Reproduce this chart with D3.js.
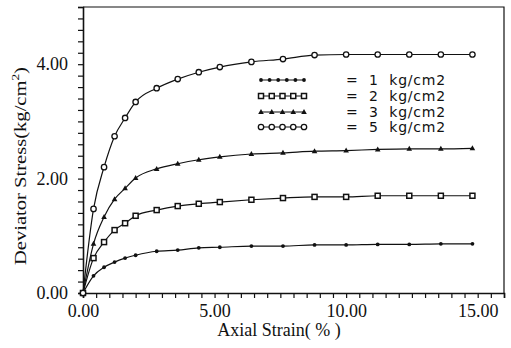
<!DOCTYPE html>
<html>
<head>
<meta charset="utf-8">
<script src="https://cdn.jsdelivr.net/npm/d3@7"></script>
<style>
  body { margin: 0; background: #fff; }
  svg { display: block; }
</style>
</head>
<body>
<div id="chart"></div>
<script>
// strain (%) read at each plotted point, shared by all four curves
var strain = [0, 0.4, 0.8, 1.2, 1.6, 2.0, 2.8, 3.6, 4.4, 5.2, 6.4, 7.6, 8.8, 10.0, 11.2, 12.4, 13.6, 14.8];
// deviator stress (kg/cm2) for each confining pressure
var stress1 = [0, 0.30, 0.45, 0.54, 0.61, 0.66, 0.73, 0.75, 0.79, 0.80, 0.82, 0.82, 0.84, 0.84, 0.85, 0.85, 0.86, 0.86];
var stress2 = [0, 0.61, 0.89, 1.10, 1.22, 1.35, 1.45, 1.52, 1.56, 1.59, 1.63, 1.66, 1.68, 1.68, 1.70, 1.70, 1.70, 1.70];
var stress3 = [0, 0.86, 1.33, 1.64, 1.83, 2.01, 2.17, 2.26, 2.33, 2.38, 2.43, 2.45, 2.48, 2.49, 2.51, 2.52, 2.52, 2.53];
var stress5 = [0, 1.47, 2.20, 2.74, 3.06, 3.34, 3.58, 3.74, 3.86, 3.95, 4.04, 4.09, 4.16, 4.17, 4.17, 4.17, 4.17, 4.17];
var pressures = ["1", "2", "3", "5"];
var markers = ["dot", "square", "triangle", "circle"];
var xLabelTicks = [0, 5, 10, 15];
var yLabelTicks = [0, 2, 4];

var series = [stress1, stress2, stress3, stress5];

var W = 511, H = 348;
var margin = { top: 7, right: 7, bottom: 55, left: 83 };
var width = W - margin.left - margin.right,
    height = H - margin.top - margin.bottom;

var svg = d3.select("#chart").append("svg")
    .attr("width", W)
    .attr("height", H)
    .append("g")
    .attr("transform", `translate(${margin.left},${margin.top})`);

var x = d3.scaleLinear().domain([0, 16]).range([0, width]);
var y = d3.scaleLinear().domain([0, 5]).range([height, 0]);

var ink = "#111";
var serif = "'Liberation Serif', 'Times New Roman', serif";

// frame (top + right)
svg.append("path")
    .attr("d", `M0,0H${width}V${height}`)
    .attr("fill", "none")
    .attr("stroke", ink)
    .attr("stroke-width", 1.2);

// x axis, minor tick every 0.5
var xAxis = svg.append("g")
    .attr("transform", `translate(0,${height})`)
    .call(d3.axisBottom(x)
        .tickValues(d3.range(0, 16.01, 0.5))
        .tickSize(5)
        .tickPadding(6)
        .tickFormat(function (d) { return xLabelTicks.indexOf(d) >= 0 ? d3.format(".2f")(d) : ""; }));

// y axis, minor tick every 0.2
var yAxis = svg.append("g")
    .call(d3.axisLeft(y)
        .tickValues(d3.range(0, 5.01, 0.2).map(function (d) { return Math.round(d * 10) / 10; }))
        .tickSize(5)
        .tickPadding(10)
        .tickFormat(function (d) { return yLabelTicks.indexOf(d) >= 0 ? d3.format(".2f")(d) : ""; }));

[xAxis, yAxis].forEach(function (a) {
    a.select(".domain").attr("stroke", ink).attr("stroke-width", 1.6);
    a.selectAll(".tick line").attr("stroke", ink).attr("stroke-width", 1.2);
    a.selectAll("text")
        .attr("fill", ink)
        .style("font-family", serif)
        .style("font-size", "18px");
});

// axis titles
svg.append("text")
    .attr("x", 196)
    .attr("y", 329)
    .attr("text-anchor", "middle")
    .style("font-family", serif)
    .style("font-size", "18px")
    .attr("fill", ink)
    .text("Axial  Strain( % )");

var yTitle = svg.append("text")
    .attr("transform", `translate(${26 - margin.left},${166 - margin.top}) rotate(-90)`)
    .attr("text-anchor", "middle")
    .attr("textLength", 198)
    .attr("lengthAdjust", "spacingAndGlyphs")
    .style("font-family", serif)
    .style("font-size", "17px")
    .attr("fill", ink);
yTitle.append("tspan").text("Deviator  Stress(kg/cm");
yTitle.append("tspan").attr("dy", -7).style("font-size", "11px").text("2");
yTitle.append("tspan").attr("dy", 7).text(")");

// marker drawing
function drawMarker(g, type, cx, cy) {
    if (type === "dot") {
        g.append("circle").attr("cx", cx).attr("cy", cy).attr("r", 1.9).attr("fill", ink);
    } else if (type === "square") {
        g.append("rect").attr("x", cx - 2.5).attr("y", cy - 2.5).attr("width", 5).attr("height", 5)
            .attr("fill", "#fff").attr("stroke", ink).attr("stroke-width", 1.5);
    } else if (type === "triangle") {
        g.append("path").attr("d", `M${cx},${cy - 3}L${cx + 2.8},${cy + 2}L${cx - 2.8},${cy + 2}Z`)
            .attr("fill", ink);
    } else {
        g.append("circle").attr("cx", cx).attr("cy", cy).attr("r", 2.7)
            .attr("fill", "#fff").attr("stroke", ink).attr("stroke-width", 1.3);
    }
}

var line = d3.line()
    .x(function (d) { return x(d[0]); })
    .y(function (d) { return y(d[1]); })
    .curve(d3.curveMonotoneX);

series.forEach(function (vals, i) {
    var pts = strain.map(function (s, j) { return [s, vals[j]]; });
    svg.append("path")
        .datum(pts)
        .attr("fill", "none")
        .attr("stroke", ink)
        .attr("stroke-width", 1.2)
        .attr("d", line);
    var g = svg.append("g");
    pts.forEach(function (p) { drawMarker(g, markers[i], x(p[0]), y(p[1])); });
});

// legend
var legendY = [80, 96, 112, 127];
var legend = svg.append("g").attr("transform", `translate(${-margin.left},${-margin.top})`);
pressures.forEach(function (p, i) {
    var ly = legendY[i];
    var n = i === 0 ? 6 : 5;
    legend.append("line")
        .attr("x1", 261).attr("x2", 304)
        .attr("y1", ly).attr("y2", ly)
        .attr("stroke", ink).attr("stroke-width", 1.2);
    for (var k = 0; k < n; k++) {
        drawMarker(legend, markers[i], 261 + k * 43 / (n - 1), ly);
    }
    legend.append("text")
        .attr("x", 346).attr("y", ly + 5)
        .style("font-family", "'DejaVu Sans', sans-serif")
        .style("font-size", "14px")
        .style("letter-spacing", "0.8px")
        .attr("fill", ink)
        .attr("xml:space", "preserve")
        .text("=  " + p + "  kg/cm2");
});
</script>
</body>
</html>
